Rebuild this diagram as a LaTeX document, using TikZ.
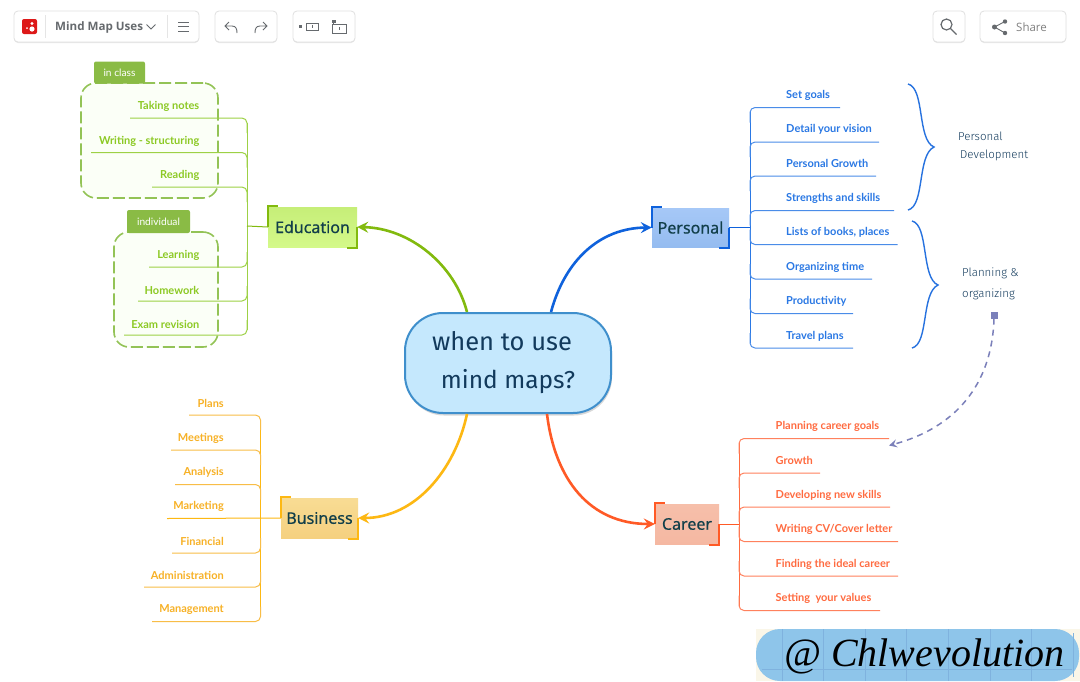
\documentclass[tikz,border=0pt]{standalone}
\usepackage{fontspec}
\usetikzlibrary{arrows.meta,shadows,calc}
\setmainfont{Open Sans}
\newfontfamily\leaffont{Lato}
\newfontfamily\topicfont[RawFeature={embolden=0.5}]{Noto Sans}
\newfontfamily\handfont{Fira Sans Light}
\newfontfamily\rootfont{Fira Sans}
\newfontfamily\sigfont{Liberation Serif}
\definecolor{edu}{HTML}{82BA0E}
\definecolor{edut}{HTML}{8CC924}
\definecolor{per}{HTML}{0F62DC}
\definecolor{pert}{HTML}{2A78E4}
\definecolor{car}{HTML}{FF5A26}
\definecolor{cart}{HTML}{FF6B40}
\definecolor{bus}{HTML}{FDB813}
\definecolor{bust}{HTML}{F7B126}
\definecolor{tabg}{HTML}{8ABB45}
\definecolor{dashg}{HTML}{93C356}
\definecolor{ink}{HTML}{123A5C}
\definecolor{topicink}{HTML}{123F4A}
\definecolor{toolg}{HTML}{666A6E}
\definecolor{rootline}{HTML}{3F8FCC}
\definecolor{rootfill}{HTML}{C5E8FD}
\definecolor{note}{HTML}{7B80BA}
\definecolor{pill}{HTML}{8EC5EA}
\definecolor{pillgrid}{HTML}{7FB2DE}
\definecolor{cream}{HTML}{FAF6E8}
\definecolor{edutop}{HTML}{C6EE78}
\definecolor{edubot}{HTML}{D4F98A}
\definecolor{bustop}{HTML}{F8DC94}
\definecolor{busbot}{HTML}{F5D080}
\definecolor{cartop}{HTML}{F6BFAA}
\definecolor{carbot}{HTML}{F5B8A2}
\definecolor{pertop}{HTML}{A6C8F7}
\definecolor{perbot}{HTML}{95BCF0}
\tikzset{
  x=1pt,y=-1pt,
  leaf/.style={font=\leaffont\bfseries\fontsize{11}{12}\selectfont,inner sep=0pt},
  twig/.style={line width=1pt,rounded corners=5pt},
  topic/.style={font=\topicfont\fontsize{16}{18}\selectfont,text=topicink,inner sep=0pt,draw=none},
  bracketline/.style={line width=1.7pt},
  mainarrow/.style={line width=2.6pt,-{Stealth[length=11pt,width=11pt,inset=4pt]}},
  groupbox/.style={draw=dashg,line width=1.6pt,fill=green!50!yellow!3!white,dash pattern=on 12pt off 4pt,rounded corners=15pt},
  grouptab/.style={fill=tabg,text=white,rounded corners=2pt,inner sep=0pt,font=\leaffont\fontsize{10.2}{12}\selectfont},
  toolbox/.style={draw=black!12,line width=.8pt,fill=white,rounded corners=4pt,drop shadow={shadow xshift=0pt,shadow yshift=-1pt,opacity=.18},inner sep=0pt},
  icon/.style={draw=toolg,line width=.9pt},
  hand/.style={font=\handfont\fontsize{11.5}{13}\selectfont,text=ink,inner sep=0pt},
}
\newcommand{\leafleft}[9]{%
  \node[leaf,text=#9,anchor=east] (#1) at (#3,#4+1.3) {#2};
  \coordinate (#1-s) at (#5,#6);
  \draw[twig,#9!85!white] (#1-s) -- (#7,#6) -- (#7,#6+#8);
}
\newcommand{\leafright}[9]{%
  \node[leaf,text=#9,anchor=west] (#1) at (#3,#4+1.3) {#2};
  \coordinate (#1-s) at (#5,#6);
  \draw[twig,#9!85!white] (#1-s) -- (#7,#6) -- (#7,#6+#8);
}
\newcommand{\brackets}[2]{%
  \draw[bracketline,#2] ([xshift=10pt,yshift=1pt]#1.north west) -- ([yshift=1pt]#1.north west) -- (#1.west);
  \draw[bracketline,#2] (#1.east) -- ([yshift=-1pt]#1.south east) -- ([xshift=-10pt,yshift=-1pt]#1.south east);
}
\begin{document}
\begin{tikzpicture}
\useasboundingbox (0,0) rectangle (1080,681);
\fill[white] (0,0) rectangle (1080,681);

% toolbar
\node[toolbox,minimum width=185,minimum height=31] (tb1) at (106.5,26.5) {};
\node[toolbox,minimum width=62,minimum height=31] (tb2) at (246,26.5) {};
\node[toolbox,minimum width=62,minimum height=31] (tb3) at (324,26.5) {};
\node[toolbox,minimum width=32,minimum height=31] (tb4) at (949,26.5) {};
\node[toolbox,minimum width=86,minimum height=31] (tb5) at (1023,26.5) {};
\fill[red!85!black!90!white,rounded corners=2pt] (22,19) rectangle (37,34);
\fill[white] (32,23.5) circle (1.7) (32,29) circle (2.6) (27,28) circle (1);
\draw[black!10,line width=.8pt] (45,15) -- (45,38) (167,15) -- (167,38);
\node[font=\bfseries\fontsize{11.6}{13}\selectfont,text=toolg,inner sep=0pt,anchor=west] (title) at (55,27.5) {Mind Map Uses};
\draw[icon] (146.5,24.5) -- (151,29) -- (155.5,24.5);
\draw[icon] (178,22) -- (189,22) (178,26.5) -- (189,26.5) (178,31) -- (189,31);
\draw[icon] (229,22) -- (225,26) -- (229,30) (225,26) -- (232,26) .. controls (236,26) and (237,29) .. (237,33);
\draw[icon] (263,22) -- (267,26) -- (263,30) (267,26) -- (260,26) .. controls (256,26) and (255,29) .. (255,33);
\fill[toolg] (299,25) rectangle (302,28);
\draw[icon] (306.5,23) rectangle (318,30) (312,25) -- (312,28);
\draw[icon] (332,24) rectangle (346,33) (333,20.5) -- (333,24) (339,27) -- (339,30);
\fill[toolg] (332,20) rectangle (336,23);
\draw[icon,line width=1.2pt] (946.5,24.5) circle (5.5) (950.5,28.5) -- (956.5,34.5);
\fill[toolg] (1005,21.5) circle (2.2) (1005,33) circle (2.2) (994.5,27) circle (2.5);
\draw[icon] (1005,21.5) -- (994.5,27) -- (1005,33);
\node[font=\fontsize{11.5}{13}\selectfont,text=black!50,inner sep=0pt,anchor=west] (share) at (1016,27.5) {Share};

% groups
\node[groupbox,minimum width=137,minimum height=115] (g1) at (149.5,140.5) {};
\node[grouptab,minimum width=51,minimum height=22] (t1) at (119.5,72.5) {in class};
\node[groupbox,minimum width=104,minimum height=115] (g2) at (166,289.5) {};
\node[grouptab,minimum width=63,minimum height=23] (t2) at (158.5,221.5) {individual};

% root
\node[draw=rootline,line width=2pt,fill=rootfill,rounded corners=38pt,minimum width=206,minimum height=100,inner sep=0pt,
  drop shadow={shadow xshift=1pt,shadow yshift=-2.5pt,opacity=.3},
  font=\rootfont\fontsize{25.5}{38}\selectfont,text=ink,align=center] (root) at (508,363)
  {\hspace*{-12pt}when to use\\\fontsize{24.5}{38}\selectfont mind maps?};

% topics
\node[topic,shade,top color=edutop,bottom color=edubot,minimum width=89,minimum height=40] (education) at (312.5,227) {Education};
\node[topic,shade,top color=pertop,bottom color=perbot,minimum width=77,minimum height=39] (personal) at (690.5,227.5) {Personal};
\node[topic,shade,top color=bustop,bottom color=busbot,minimum width=77,minimum height=40] (business) at (319.5,518) {Business};
\node[topic,shade,top color=cartop,bottom color=carbot,minimum width=64,minimum height=40] (career) at (687,524) {Career};

% main connectors
\draw[mainarrow,edu] ([xshift=-41pt]root.north) .. controls (455,265) and (410,228) .. (education.east);
\draw[mainarrow,per] ([xshift=43pt]root.north) .. controls (565,260) and (600,228) .. (personal.west);
\draw[mainarrow,bus] ([xshift=-41pt]root.south) .. controls (455,470) and (415,518) .. (business.east);
\draw[mainarrow,car] ([xshift=39pt]root.south) .. controls (555,480) and (590,524) .. (career.west);
\brackets{education}{edu}
\brackets{personal}{per}
\brackets{business}{bus}
\brackets{career}{car}

% Education
\draw[line width=1pt,edut!85!white] (247,123) -- (247,330);
\draw[line width=1pt,edu] (education.west) -- (247,226);
\leafleft{e1}{Taking notes}{199.5}{105}{130}{118}{247}{15}{edut}
\leafleft{e2}{Writing - structuring}{199.5}{140}{91}{152.5}{247}{15}{edut}
\leafleft{e3}{Reading}{199.5}{174}{152}{187}{247}{15}{edut}
\leafleft{e4}{Learning}{199.5}{254}{149}{267}{247}{-15}{edut}
\leafleft{e5}{Homework}{199.5}{289}{138}{301}{247}{-15}{edut}
\leafleft{e6}{Exam revision}{199.5}{323}{124}{335}{247}{-15}{edut}

% Personal
\draw[line width=1pt,pert] (750,112) -- (750,343);
\draw[line width=1pt,per] (personal.east) -- (750,227.5);
\leafright{p1}{Set goals}{786}{94}{840}{107.5}{750}{15}{pert}
\leafright{p2}{Detail your vision}{786}{128.5}{879}{142}{750}{15}{pert}
\leafright{p3}{Personal Growth}{786}{162.5}{876}{176}{750}{15}{pert}
\leafright{p4}{Strengths and skills}{786}{197.5}{894}{210.5}{750}{15}{pert}
\leafright{p5}{Lists of books, places}{786}{231.5}{897.5}{244.5}{750}{-15}{pert}
\leafright{p6}{Organizing time}{786}{266}{872}{279}{750}{-15}{pert}
\leafright{p7}{Productivity}{786}{300}{853}{313.5}{750}{-15}{pert}
\leafright{p8}{Travel plans}{786}{335}{853}{348}{750}{-15}{pert}

% Career
\draw[line width=1pt,cart] (739,443) -- (739,606);
\draw[line width=1pt,car] (career.east) -- (739,524);
\leafright{c1}{Planning career goals}{775.5}{425.5}{889}{438.5}{739}{15}{cart}
\leafright{c2}{Growth}{775.5}{459.5}{820}{473}{739}{15}{cart}
\leafright{c3}{Developing new skills}{775.5}{494}{890}{507}{739}{15}{cart}
\leafright{c4}{Writing CV/Cover letter}{775.5}{528.5}{898}{541.5}{739}{-15}{cart}
\leafright{c5}{Finding the ideal career}{775.5}{563}{898}{576}{739}{-15}{cart}
\leafright{c6}{Setting\ \ your values}{775.5}{597}{880}{610.5}{739}{-15}{cart}

% Business
\draw[line width=1pt,bus] (260.5,420) -- (260.5,617);
\draw[line width=1pt,bus] (business.west) -- (167,518.5);
\leafleft{b1}{Plans}{224}{402.5}{189}{415}{260.5}{15}{bust}
\leafleft{b2}{Meetings}{224}{437}{171}{450}{260.5}{15}{bust}
\leafleft{b3}{Analysis}{224}{471.5}{175}{484.5}{260.5}{15}{bust}
\node[leaf,text=bust,anchor=east] (b4) at (224,506.8) {Marketing};
\leafleft{b5}{Financial}{224}{540}{172}{553}{260.5}{-15}{bust}
\leafleft{b6}{Administration}{224}{574}{144}{587}{260.5}{-15}{bust}
\leafleft{b7}{Management}{224}{608.5}{152}{621.5}{260.5}{-15}{bust}

% braces and notes
\coordinate (br1a) at (908,84);
\coordinate (br1t) at (934,147);
\coordinate (br1b) at (908,210);
\coordinate (br2a) at (912,221);
\coordinate (br2t) at (938,285);
\coordinate (br2b) at (912,348);
\draw[line width=1.4pt,per!90!white] (br1a) .. controls (925,88) and (917,140) .. (br1t) .. controls (917,155) and (925,206) .. (br1b);
\draw[line width=1.4pt,per!90!white] (br2a) .. controls (929,225) and (921,278) .. (br2t) .. controls (921,293) and (929,344) .. (br2b);
\node[hand,anchor=west] (n1) at (958,136) {Personal};
\node[hand,anchor=west] (n2) at (960,155.5) {Development};
\node[hand,anchor=west] (n3) at (962,273) {Planning \&};
\node[hand,anchor=west] (n4) at (962,294) {organizing};
\node[fill=note,minimum size=7pt,inner sep=0pt] (sq) at (994,315) {};
\draw[note,line width=1.5pt,dash pattern=on 6pt off 5pt,-{Stealth[length=8pt,width=8pt,inset=3pt]}]
  (sq.south) .. controls (992,385) and (955,428) .. ([yshift=-7pt]c1-s);

% signature
\fill[cream] (756,629) rectangle (1080,681);
\fill[pill,rounded corners=24pt] (756,629) rectangle (1079,681);
\draw[pillgrid,line width=.8pt]
  (782,629) -- (782,681) (823,629) -- (823,681) (865,629) -- (865,681)
  (906,629) -- (906,681) (948,629) -- (948,681) (990,629) -- (990,681)
  (1031,629) -- (1031,681) (1073,633) -- (1073,677) (762,669) -- (1072,669);
\node[font=\sigfont\itshape\fontsize{40}{44}\selectfont,text=black,inner sep=0pt,anchor=west] (sig) at (784,656) {@ Chlwevolution};
\end{tikzpicture}
\end{document}
